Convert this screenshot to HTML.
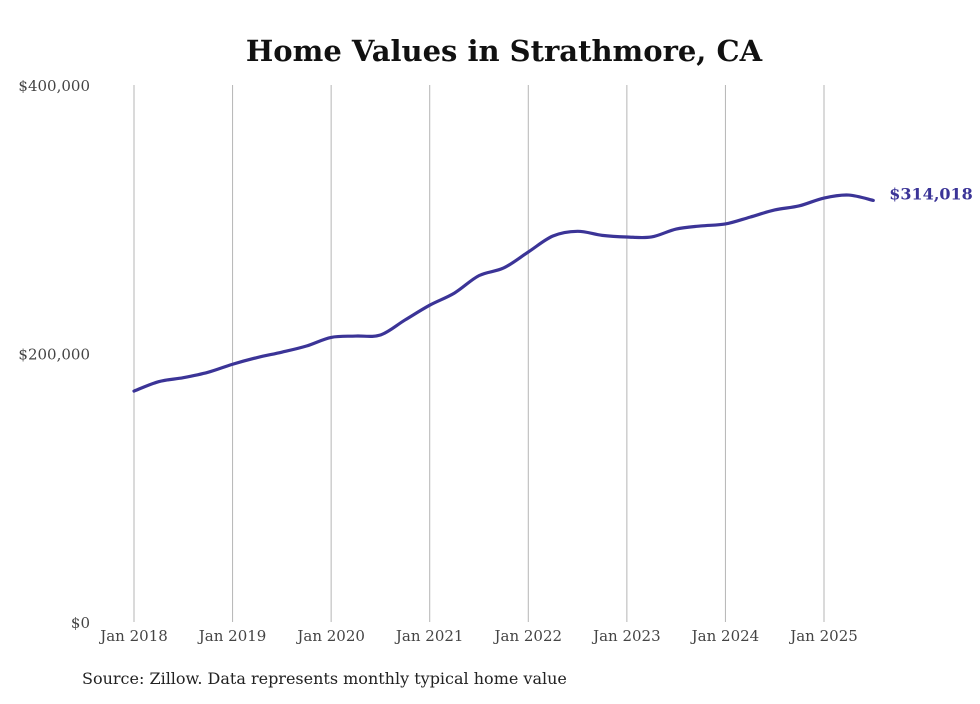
<!DOCTYPE html>
<html><head><meta charset="utf-8"><style>
body{margin:0;background:#fff;}
svg text{font-family:"DejaVu Serif","Liberation Serif",serif;}
</style></head><body>
<svg id="chart" width="980" height="699" xmlns="http://www.w3.org/2000/svg">
<rect width="980" height="699" fill="#fff"/>
<text x="504" y="61" text-anchor="middle" font-size="29" font-weight="bold" fill="#111">Home Values in Strathmore, CA</text>
<g id="grid"></g><g id="yaxis"></g><g id="xaxis"></g>
<path id="line" fill="none" stroke="#3b3497" stroke-width="3.2" stroke-linejoin="round" stroke-linecap="round"/>
<text id="endlabel" font-size="16" font-weight="bold" fill="#3b3497"></text>
<text x="82" y="684" font-size="16" fill="#222" font-family="Liberation Serif, serif">Source: Zillow. Data represents monthly typical home value</text>
</svg>
<script>
const monthsFromJan2018 = [0,3,6,9,12,15,18,21,24,27,30,33,36,39,42,45,48,51,54,57,60,63,66,69,72,75,78,81,84,87,90];
const homeValues = [172000,179000,182000,186000,192000,197000,201000,205600,212000,213000,213800,225000,236000,245000,258000,263700,275600,287500,291000,288000,286800,286800,292700,295000,296500,301600,306900,310000,315800,318000,314018];
const xTickLabels = ["Jan 2018","Jan 2019","Jan 2020","Jan 2021","Jan 2022","Jan 2023","Jan 2024","Jan 2025"];
const yTickValues = [0,200000,400000];
const yTickLabels = ["$0","$200,000","$400,000"];
const endLabel = "$314,018";

const NS="http://www.w3.org/2000/svg";
const x = m => 134 + m*(690/84);
const y = v => 622 - v*(537/400000);
function mk(tag, attrs, parent, txt){const e=document.createElementNS(NS,tag);for(const k in attrs)e.setAttribute(k,attrs[k]);if(txt!==undefined)e.textContent=txt;parent.appendChild(e);return e;}
const grid=document.getElementById('grid'), xa=document.getElementById('xaxis'), ya=document.getElementById('yaxis');
xTickLabels.forEach((l,i)=>{
  const gx=x(i*12);
  const g=mk('line',{x1:gx,x2:gx,y1:85,y2:622,stroke:'#b5b5b5','stroke-width':1},grid);
  
  
  const t=mk('text',{x:gx,y:641,'text-anchor':'middle','font-size':15,fill:'#444','font-family':'Liberation Serif, serif'},xa,l);
  
  
});
yTickValues.forEach((v,i)=>{
  const t=mk('text',{x:90,y:y(v)+6,'text-anchor':'end','font-size':15,fill:'#444','font-family':'Liberation Serif, serif'},ya,yTickLabels[i]);
  
  
});
const pts=monthsFromJan2018.map((m,i)=>[x(m),y(homeValues[i])]);
let d=`M${pts[0][0]},${pts[0][1]}`;
for(let i=0;i<pts.length-1;i++){
  const p0=pts[Math.max(0,i-1)],p1=pts[i],p2=pts[i+1],p3=pts[Math.min(pts.length-1,i+2)];
  const c1=[p1[0]+(p2[0]-p0[0])/6,p1[1]+(p2[1]-p0[1])/6];
  const c2=[p2[0]-(p3[0]-p1[0])/6,p2[1]-(p3[1]-p1[1])/6];
  d+=` C${c1[0]},${c1[1]} ${c2[0]},${c2[1]} ${p2[0]},${p2[1]}`;
}
document.getElementById('line').setAttribute('d',d);
const last=pts[pts.length-1];
const el=document.getElementById('endlabel');
el.setAttribute('x',last[0]+16);el.setAttribute('y',last[1]-1);el.textContent=endLabel;
</script>
</body></html>
